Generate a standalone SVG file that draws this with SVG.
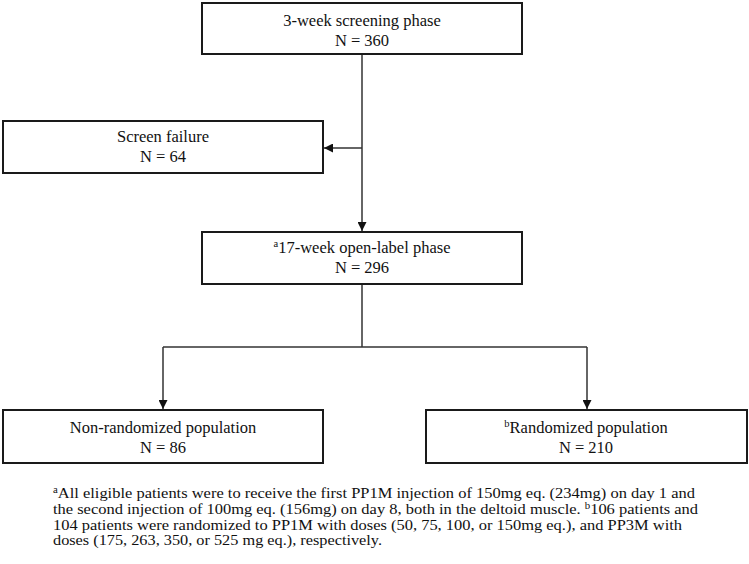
<svg xmlns="http://www.w3.org/2000/svg" width="749" height="564" viewBox="0 0 749 564">
<style>
.box{fill:#fff;stroke:#1a1a1a;stroke-width:2}
.t{font-family:"Liberation Serif","Times New Roman",serif;font-size:16.5px;fill:#111;text-anchor:middle}
.f{font-family:"Liberation Serif","Times New Roman",serif;font-size:14.5px;fill:#111}
.c{fill:none;stroke:#333;stroke-width:1.5}
</style>
<defs>
<marker id="ah" viewBox="0 0 10 10" refX="10" refY="5" markerWidth="10" markerHeight="9" markerUnits="userSpaceOnUse" orient="auto">
<path d="M0,0 L10,5 L0,10 Z" fill="#111"/>
</marker>
</defs>
<rect width="749" height="564" fill="#fff"/>
<g id="connectors">
<path class="c" d="M362,55 V231" marker-end="url(#ah)"/>
<path class="c" d="M362,148 H324" marker-end="url(#ah)"/>
<path class="c" d="M362,285 V347"/>
<path class="c" d="M163,347 H587"/>
<path class="c" d="M163,347 V409" marker-end="url(#ah)"/>
<path class="c" d="M587,347 V409" marker-end="url(#ah)"/>
</g>
<g id="screening">
<rect class="box" x="202" y="3" width="320" height="51"/>
<text class="t" x="362" y="26">3-week screening phase</text>
<text class="t" x="362" y="46">N = 360</text>
</g>
<g id="screen-failure">
<rect class="box" x="3" y="121" width="320" height="52"/>
<text class="t" x="163" y="142">Screen failure</text>
<text class="t" x="163" y="162">N = 64</text>
</g>
<g id="open-label">
<rect class="box" x="202" y="232" width="320" height="52"/>
<text class="t" x="362" y="253"><tspan font-size="10.5" dy="-6">a</tspan><tspan dy="6">17-week open-label phase</tspan></text>
<text class="t" x="362" y="273">N = 296</text>
</g>
<g id="non-randomized">
<rect class="box" x="3" y="410" width="320" height="53"/>
<text class="t" x="163" y="433">Non-randomized population</text>
<text class="t" x="163" y="453">N = 86</text>
</g>
<g id="randomized">
<rect class="box" x="426" y="410" width="321" height="53"/>
<text class="t" x="586" y="433"><tspan font-size="10.5" dy="-6">b</tspan><tspan dy="6">Randomized population</tspan></text>
<text class="t" x="586" y="453">N = 210</text>
</g>
<g id="footnote">
<text class="f" x="53" y="498" textLength="642" lengthAdjust="spacingAndGlyphs"><tspan font-size="9.5" dy="-5">a</tspan><tspan dy="5">All eligible patients were to receive the first PP1M injection of 150mg eq. (234mg) on day 1 and</tspan></text>
<text class="f" x="53" y="514" textLength="645" lengthAdjust="spacingAndGlyphs">the second injection of 100mg eq. (156mg) on day 8, both in the deltoid muscle. <tspan font-size="9.5" dy="-5">b</tspan><tspan dy="5">106 patients and</tspan></text>
<text class="f" x="53" y="529.5" textLength="629" lengthAdjust="spacingAndGlyphs">104 patients were randomized to PP1M with doses (50, 75, 100, or 150mg eq.), and PP3M with</text>
<text class="f" x="53" y="545" textLength="329" lengthAdjust="spacingAndGlyphs">doses (175, 263, 350, or 525 mg eq.), respectively.</text>
</g>
</svg>
